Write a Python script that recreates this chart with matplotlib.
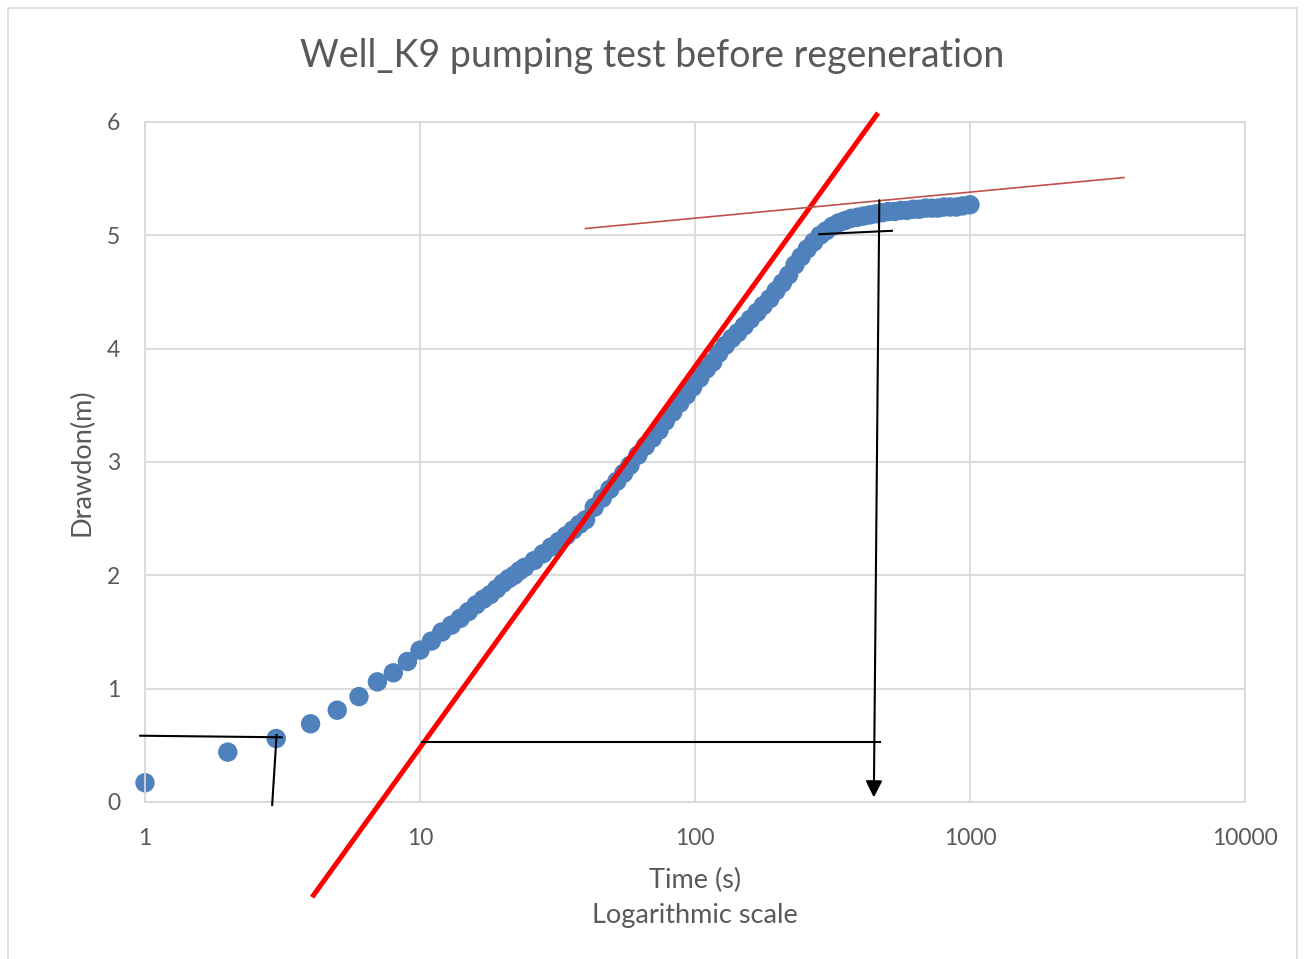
import numpy as np
import matplotlib
matplotlib.use('Agg')
import matplotlib.pyplot as plt
from matplotlib.patches import Rectangle

# measured drawdown (time in s, drawdown in m)
time_s = [1, 2, 3, 4, 5, 6, 7, 8, 9, 10, 11, 12, 13, 14, 15, 16, 17, 18, 19, 20,
          21, 22, 23, 24, 26, 28, 30, 32, 34, 36, 38, 40,
          43, 46, 49, 52, 55, 58, 62, 66, 70, 74, 78, 83, 88, 93, 98,
          104, 110, 116, 122, 129, 136, 143, 151, 159, 168, 177, 187, 197,
          208, 219, 231, 243, 256, 270, 285, 300, 316, 333, 351, 370, 390,
          410, 432, 455, 480, 505, 532, 560, 590, 621, 654, 689, 725, 764,
          804, 847, 892, 940, 1000]
drawdown = [0.17, 0.44, 0.56, 0.69, 0.81, 0.93, 1.06, 1.14, 1.24, 1.34, 1.42, 1.50,
            1.56, 1.62, 1.68, 1.74, 1.79, 1.83, 1.88, 1.93,
            1.97, 2.00, 2.04, 2.07, 2.13, 2.19, 2.25, 2.30, 2.35, 2.40, 2.45, 2.49,
            2.60, 2.68, 2.76, 2.83, 2.90, 2.97, 3.06, 3.14, 3.21, 3.28, 3.36, 3.44,
            3.52, 3.59, 3.66,
            3.74, 3.82, 3.88, 3.96, 4.03, 4.09, 4.14, 4.20, 4.26, 4.32, 4.38, 4.44, 4.51,
            4.58, 4.65, 4.74, 4.81, 4.88, 4.94, 5.00, 5.04, 5.08, 5.11, 5.13, 5.15, 5.16,
            5.17, 5.18, 5.19, 5.20, 5.21, 5.21, 5.22, 5.22, 5.23, 5.23, 5.24, 5.24, 5.24,
            5.25, 5.25, 5.25, 5.26, 5.27]

# straight line fit (thick red) and late time line (thin red)
fit_t = [4.05, 463]
fit_y = [-0.84, 6.08]
late_t = [40, 3630]
late_y = [5.06, 5.51]

# hand drawn construction lines
h1_t = [0.96, 3.14]
h1_y = [0.585, 0.571]
v1_t = [3.01, 2.90]
v1_y = [0.591, -0.026]
h2_t = [10.2, 470]
h2_y = [0.532, 0.532]
h3_t = [283, 520]
h3_y = [5.01, 5.04]
arrow_top = (468, 5.31)
arrow_tip = (447, 0.04)

xticks = [1, 10, 100, 1000, 10000]
yticks = [0, 1, 2, 3, 4, 5, 6]

grey = '#595959'
plt.rcParams['font.family'] = ['Lato', 'DejaVu Sans']

fig = plt.figure(figsize=(13.04, 9.59), dpi=100)
fig.patches.append(Rectangle((8/1304., -0.05), 1289/1304., 1.05 - 8/959.,
                             transform=fig.transFigure, fill=False,
                             edgecolor='#D9D9D9', lw=1.2))

ax = fig.add_axes([145/1304., 157/959., 1100/1304., 680/959.])
ax.set_xscale('log')
ax.set_xlim(1, 10000)
ax.set_ylim(0, 6)
ax.set_xticks(xticks)
ax.set_xticklabels([str(t) for t in xticks])
ax.xaxis.set_minor_locator(matplotlib.ticker.NullLocator())
ax.set_yticks(yticks)
ax.tick_params(length=0, labelsize=16.5, labelcolor=grey)
ax.tick_params(axis='x', pad=19)
ax.tick_params(axis='y', pad=18)
ax.grid(True, color='#D9D9D9', lw=1.3)
ax.set_axisbelow(True)
for s in ax.spines.values():
    s.set_color('#D9D9D9')
    s.set_linewidth(1.3)

ax.scatter(time_s, drawdown, s=195, color='#4F81BD', edgecolors='none',
           zorder=2, clip_on=False)

ax.plot(fit_t, fit_y, color='#FF0000', lw=3.6, zorder=4, clip_on=False,
        solid_capstyle='butt')
ax.plot(late_t, late_y, color='#C0504D', lw=1.2, zorder=4, clip_on=False)

for tt, yy in ((h1_t, h1_y), (v1_t, v1_y), (h2_t, h2_y), (h3_t, h3_y)):
    ax.plot(tt, yy, color='black', lw=1.5, zorder=5, clip_on=False)
ax.annotate('', xy=arrow_tip, xytext=arrow_top,
            arrowprops=dict(arrowstyle='-|>', color='black', lw=1.5,
                            mutation_scale=25, shrinkA=0, shrinkB=0),
            zorder=5, annotation_clip=False)

fig.text(652/1304., 1 - 56/959., 'Well_K9 pumping test before regeneration',
         ha='center', va='center', fontsize=27, color=grey)
fig.text(695/1304., 1 - 880/959., 'Time (s)', ha='center', va='center',
         fontsize=19.5, color=grey)
fig.text(695/1304., 1 - 916/959., 'Logarithmic scale', ha='center', va='center',
         fontsize=19.5, color=grey)
fig.text(82/1304., 1 - 462/959., 'Drawdon(m)', ha='center', va='center',
         rotation=90, fontsize=19.5, color=grey)

fig.savefig('out.png', dpi=100)
